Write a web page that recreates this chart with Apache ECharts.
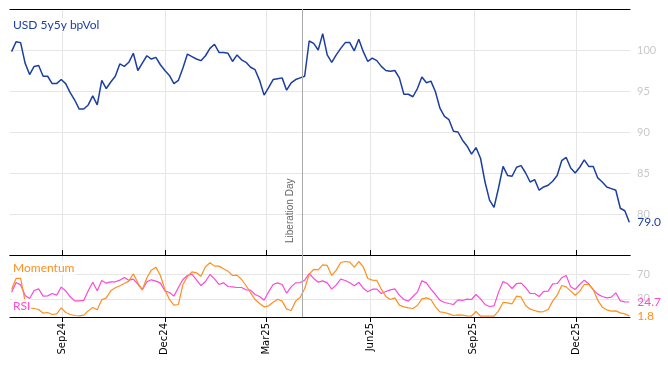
<!DOCTYPE html>
<html>
<head>
<meta charset="utf-8">
<script src="https://cdn.jsdelivr.net/npm/echarts@6/dist/echarts.min.js"></script>
<style>
  html, body { margin: 0; padding: 0; background: #fff; }
  #chart { width: 668px; height: 366px; }
</style>
</head>
<body>
<div id="chart"></div>
<script>
// ---- data (one point every 4 calendar days, starting 2024-07-18) ----
const startDate = [2024, 6, 18];   // year, monthIndex, day
const stepDays = 4;

const volTitle = 'USD 5y5y bpVol';
const vol = [
  99.8, 101.0, 100.9, 98.4, 97.0, 98.0, 98.1, 96.8, 96.8, 95.9,
  95.9, 96.4, 95.9, 94.8, 93.9, 92.8, 92.8, 93.3, 94.4, 93.3,
  96.3, 95.3, 96.1, 96.8, 98.3, 98.0, 98.5, 99.6, 97.5, 98.4,
  99.3, 98.9, 99.1, 98.2, 97.5, 96.9, 95.9, 96.3, 97.8, 99.5,
  99.2, 98.9, 98.7, 99.3, 100.2, 100.7, 99.7, 99.7, 99.6, 98.6,
  99.4, 98.8, 98.5, 97.9, 97.6, 96.3, 94.5, 95.4, 96.4, 96.5,
  96.6, 95.1, 96.0, 96.4, 96.6, 96.8, 101.1, 100.8, 100.0, 102.0,
  99.4, 98.5, 99.4, 100.2, 100.9, 100.9, 99.9, 101.3, 99.8, 98.6,
  99.0, 98.7, 98.0, 97.5, 97.4, 97.5, 96.6, 94.6, 94.6, 94.3,
  95.3, 96.7, 96.0, 96.2, 94.9, 92.9, 91.9, 91.5, 90.1, 90.0,
  89.0, 88.3, 87.3, 88.1, 86.8, 83.9, 81.7, 80.8, 83.2, 85.8,
  84.7, 84.6, 85.7, 85.9, 85.0, 83.9, 84.2, 82.9, 83.3, 83.5,
  84.0, 84.7, 86.5, 86.9, 85.6, 85.0, 85.7, 86.6, 85.8, 85.8,
  84.4, 83.9, 83.3, 83.1, 82.9, 80.7, 80.4, 79.0
];

const momentum = [
  45.3, 63.4, 63.4, 26.1, 14.5, 14.0, 12.3, 6.3, 7.4, 4.1,
  5.2, 15.1, 7.4, 4.1, 2.5, 1.9, 3.0, 10.1, 15.6, 11.8,
  28.2, 31.5, 43.1, 48.0, 51.3, 55.1, 59.0, 71.0, 56.2, 44.7,
  64.5, 77.1, 82.0, 68.3, 45.3, 28.8, 19.5, 20.6, 53.5, 66.7,
  74.3, 72.7, 67.2, 82.6, 89.2, 83.7, 83.7, 79.3, 75.4, 68.3,
  68.9, 61.7, 51.8, 39.8, 28.8, 22.2, 16.7, 18.4, 24.4, 29.3,
  26.1, 12.9, 10.7, 26.1, 32.6, 46.4, 70.5, 78.2, 77.6, 85.9,
  84.8, 68.3, 77.1, 89.7, 91.3, 90.2, 82.0, 91.3, 82.6, 63.4,
  60.6, 60.1, 45.8, 33.7, 28.8, 31.5, 19.5, 16.7, 15.1, 14.0,
  18.9, 29.9, 31.5, 28.8, 16.7, 8.5, 7.4, 5.2, 2.5, 3.6,
  3.0, 1.9, 1.4, 9.0, 1.4, 1.4, 1.4, 1.4, 10.1, 23.9,
  23.3, 21.7, 34.3, 32.6, 18.9, 12.9, 10.7, 8.5, 9.0, 12.3,
  26.1, 35.9, 51.8, 49.6, 42.5, 35.9, 42.5, 53.5, 53.5, 45.3,
  27.7, 16.2, 11.8, 9.6, 10.1, 6.8, 5.2, 1.8
];

const rsi = [
  40.9, 56.8, 52.9, 35.4, 30.4, 43.6, 46.3, 34.3, 34.8, 38.7,
  35.9, 49.1, 43.1, 33.2, 26.6, 26.6, 27.2, 43.1, 57.3, 43.1,
  60.1, 55.7, 57.9, 57.9, 60.6, 65.0, 60.6, 62.3, 54.0, 44.7,
  57.9, 61.2, 59.0, 55.7, 43.1, 40.3, 34.3, 48.5, 61.7, 68.3,
  70.5, 61.2, 51.8, 58.4, 69.9, 62.8, 53.5, 56.2, 50.2, 49.6,
  48.5, 48.5, 44.7, 44.2, 37.0, 33.7, 27.7, 41.4, 53.5, 56.2,
  53.5, 39.2, 49.6, 56.2, 56.8, 60.6, 71.6, 63.4, 57.3, 59.5,
  56.2, 45.8, 52.9, 62.3, 60.1, 56.2, 51.3, 56.8, 47.4, 41.4,
  45.8, 45.8, 38.7, 42.0, 44.7, 46.3, 35.9, 28.8, 26.1, 33.7,
  40.9, 59.5, 56.2, 45.8, 37.0, 27.7, 23.9, 22.2, 20.6, 28.2,
  27.2, 29.3, 28.8, 37.0, 29.9, 20.6, 17.3, 18.4, 40.9, 58.4,
  54.6, 46.9, 55.1, 55.7, 48.5, 38.7, 38.7, 33.7, 42.0, 42.5,
  54.6, 55.1, 64.5, 68.3, 49.6, 45.3, 53.5, 60.6, 54.6, 44.7,
  37.6, 33.7, 31.5, 32.6, 39.8, 26.6, 25.0, 24.7
];

const tickDates = ['2024-09-01', '2024-12-01', '2025-03-01', '2025-06-01', '2025-09-01', '2025-12-01'];
const tickLabels = ['Sep24', 'Dec24', 'Mar25', 'Jun25', 'Sep25', 'Dec25'];
const volLabels = [80, 85, 90, 95, 100];
const oscTicks = [30, 70];
const eventDate = '2025-04-02';
const eventLabel = 'Liberation Day';
const axisStart = '2024-07-16T14:24';
const axisEnd = '2026-01-17T14:24';

// ---- helpers ----
function ts(s) {
  const p = s.split(/[-T:]/).map(Number);
  return new Date(p[0], p[1] - 1, p[2], p[3] || 0, p[4] || 0).getTime();
}
const dates = vol.map((_, i) => new Date(startDate[0], startDate[1], startDate[2] + stepDays * i).getTime());
const tickTs = tickDates.map(ts);
const labelOf = {};
tickTs.forEach((t, i) => { labelOf[t] = tickLabels[i]; });
const xMin = ts(axisStart), xMax = ts(axisEnd), evTs = ts(eventDate);

const BLUE = '#1c3f9f', ORANGE = '#ff8f1f', PINK = '#fa4bd6';
const GRIDC = '#e6e6e6';
const LFONT = 'Lato';

const chart = echarts.init(document.getElementById('chart'), null, { renderer: 'canvas' });

const baseX = {
  type: 'value', min: xMin, max: xMax, scale: true,
  axisLine: { show: true, onZero: false, lineStyle: { color: '#000', width: 1 } },
  axisTick: { show: false },
  axisLabel: { show: false },
  splitLine: { show: false }
};

chart.setOption({
  animation: false,
  backgroundColor: '#fff',
  grid: [
    { left: 10, right: 38, top: 9, height: 246 },
    { left: 10, right: 38, top: 255, height: 62 }
  ],
  xAxis: [
    Object.assign({}, baseX, {
      gridIndex: 0, position: 'bottom',
      axisTick: { show: true, inside: true, length: 5, customValues: tickTs, lineStyle: { color: '#000' } },
      axisLabel: { show: false, customValues: tickTs },
      splitLine: { show: true, lineStyle: { color: GRIDC, width: 1 } }
    }),
    Object.assign({}, baseX, { gridIndex: 0, position: 'top' }),
    Object.assign({}, baseX, {
      gridIndex: 1, position: 'bottom',
      axisTick: { show: true, inside: false, length: 5, customValues: tickTs, lineStyle: { color: '#000' } },
      axisLabel: {
        show: true, customValues: tickTs, rotate: 90, margin: 6,
        color: '#000', fontSize: 10, fontFamily: 'DejaVu Sans',
        formatter: v => labelOf[v] || ''
      },
      splitLine: { show: true, lineStyle: { color: GRIDC, width: 1 } }
    }),
    Object.assign({}, baseX, { gridIndex: 1, position: 'top' })
  ],
  yAxis: [
    {
      gridIndex: 0, type: 'value', position: 'right', min: 75, max: 105, interval: 5,
      axisLine: { show: false }, axisTick: { show: false },
      axisLabel: {
        show: true, color: '#c9c9c9', fontSize: 11, fontFamily: LFONT, margin: 7,
        formatter: v => volLabels.indexOf(v) >= 0 ? String(v) : ''
      },
      splitLine: { show: true, lineStyle: { color: GRIDC, width: 1 } }
    },
    {
      gridIndex: 1, type: 'value', position: 'right', min: 0, max: 102,
      axisLine: { show: false },
      axisTick: { show: false, customValues: oscTicks },
      axisLabel: { show: true, customValues: oscTicks, color: '#c9c9c9', fontSize: 11, fontFamily: LFONT, margin: 7 },
      splitLine: { show: true, lineStyle: { color: GRIDC, width: 1 } }
    }
  ],
  series: [
    {
      name: volTitle, type: 'line', xAxisIndex: 0, yAxisIndex: 0,
      data: dates.map((d, i) => [d, vol[i]]),
      showSymbol: false, symbol: 'none',
      lineStyle: { color: BLUE, width: 1.5 },
      itemStyle: { color: BLUE },
      endLabel: { show: true, formatter: p => p.value[1].toFixed(1), color: BLUE, fontSize: 12, fontFamily: LFONT, distance: 8 },
      markLine: {
        silent: true, symbol: ['none', 'none'],
        lineStyle: { color: '#aaaaaa', width: 1, type: 'solid' },
        label: {
          show: true, formatter: eventLabel, position: 'insideStartTop',
          color: '#666', fontSize: 10, fontFamily: 'Liberation Sans',
          backgroundColor: 'rgba(255,255,255,0.9)', padding: [1, 2], distance: [10, 6]
        },
        data: [{ xAxis: evTs }]
      },
      z: 3
    },
    {
      name: 'RSI', type: 'line', xAxisIndex: 2, yAxisIndex: 1,
      data: dates.map((d, i) => [d, rsi[i]]),
      showSymbol: false, symbol: 'none',
      lineStyle: { color: PINK, width: 1.2 },
      itemStyle: { color: PINK },
      endLabel: { show: true, formatter: p => p.value[1].toFixed(1), color: PINK, fontSize: 12, fontFamily: LFONT, distance: 8 },
      markLine: {
        silent: true, symbol: ['none', 'none'],
        lineStyle: { color: '#aaaaaa', width: 1, type: 'solid' },
        label: { show: false },
        data: [{ xAxis: evTs }]
      },
      z: 3
    },
    {
      name: 'Momentum', type: 'line', xAxisIndex: 2, yAxisIndex: 1,
      data: dates.map((d, i) => [d, momentum[i]]),
      showSymbol: false, symbol: 'none',
      lineStyle: { color: ORANGE, width: 1.2 },
      itemStyle: { color: ORANGE },
      endLabel: { show: true, formatter: p => p.value[1].toFixed(1), color: ORANGE, fontSize: 12, fontFamily: LFONT, distance: 8 },
      z: 3
    }
  ],
  graphic: [
    { type: 'text', left: 12, top: 18, z: 10,
      style: { text: volTitle, fill: BLUE, fontSize: 12, fontFamily: LFONT, backgroundColor: 'rgba(255,255,255,0.9)', padding: [1, 1] } },
    { type: 'text', left: 12, top: 261, z: 10,
      style: { text: 'Momentum', fill: ORANGE, fontSize: 12, fontFamily: LFONT, backgroundColor: 'rgba(255,255,255,0.75)', padding: [1, 1] } },
    { type: 'text', left: 12, top: 299, z: 10,
      style: { text: 'RSI', fill: PINK, fontSize: 12, fontFamily: LFONT, backgroundColor: 'rgba(255,255,255,0.75)', padding: [1, 1] } }
  ]
});
</script>
</body>
</html>
